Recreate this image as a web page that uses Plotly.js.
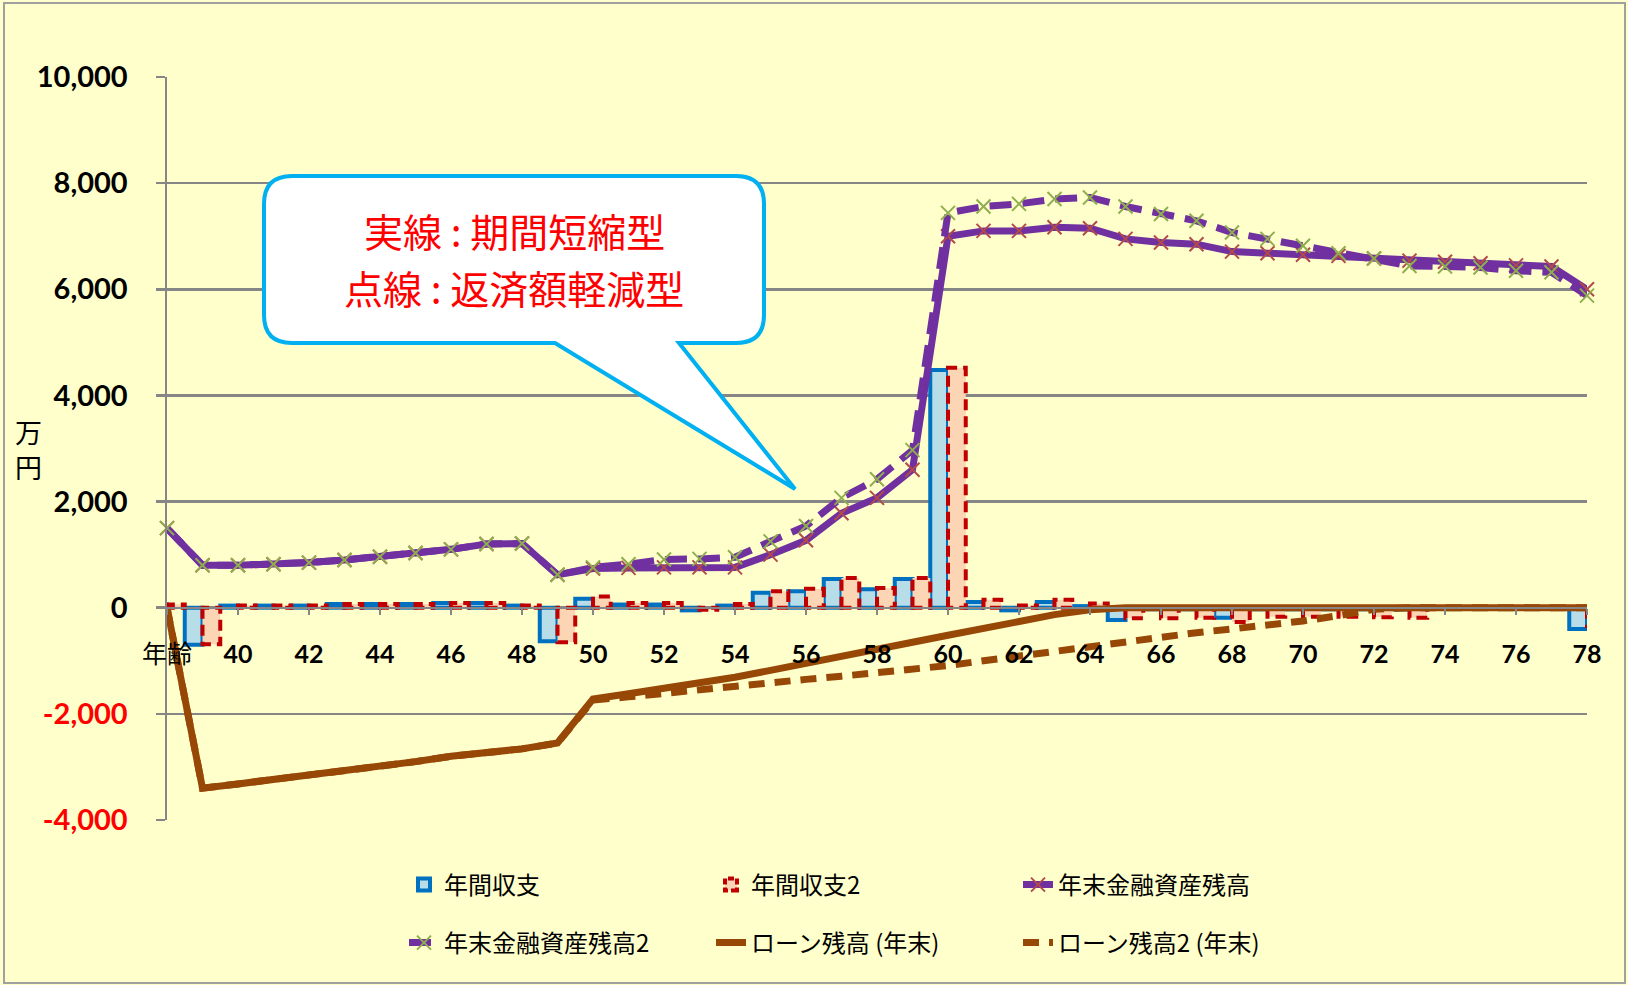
<!DOCTYPE html>
<html>
<head>
<meta charset="utf-8">
<script src="https://cdn.plot.ly/plotly-3.0.1.min.js"></script>
<style>html,body{margin:0;padding:0;background:#FFFFCC;}#chart{width:1628px;height:985px;}</style>
</head>
<body>
<div id="chart"></div>
<script>
// ---- data (万円) ----
const ages = [38,39,40,41,42,43,44,45,46,47,48,49,50,51,52,53,54,55,56,57,58,59,60,61,62,63,64,65,66,67,68,69,70,71,72,73,74,75,76,77,78];
const xTickVals = [38,40,42,44,46,48,50,52,54,56,58,60,62,64,66,68,70,72,74,76,78];
const xTickText = ['年齢','40','42','44','46','48','50','52','54','56','58','60','62','64','66','68','70','72','74','76','78'];
const yTickVals = [-4000,-2000,0,2000,4000,6000,8000,10000];
const yTickText = ['-4,000','-2,000','0','2,000','4,000','6,000','8,000','10,000'];

const annualBalance  = [60,-700,40,40,40,70,70,70,90,90,40,-630,170,60,60,-50,40,280,310,540,350,540,4480,110,-50,110,30,-230,-30,-30,-190,-30,-30,-30,-30,-30,-20,-20,-20,-20,-400];
const annualBalance2 = [60,-690,40,40,40,70,70,70,90,90,40,-650,210,90,90,-40,70,310,355,560,370,560,4520,150,40,150,80,-200,-200,-190,-270,-170,-170,-170,-180,-190,-20,-20,-20,-20,-350];
const assets  = [1500,800,800,820,850,900,960,1030,1100,1200,1210,620,740,750,760,760,760,1000,1270,1780,2070,2600,7000,7100,7100,7170,7150,6950,6880,6850,6710,6680,6650,6630,6580,6540,6520,6490,6450,6430,6000];
const assets2 = [1500,800,800,820,850,900,960,1030,1100,1200,1210,620,760,820,910,920,950,1250,1540,2070,2420,2970,7440,7560,7610,7700,7730,7560,7420,7290,7070,6950,6820,6680,6580,6440,6430,6410,6350,6320,5880];
const loan  = [0,-3400,-3320,-3240,-3170,-3080,-2990,-2900,-2800,-2730,-2660,-2550,-1720,-1620,-1520,-1420,-1310,-1180,-1040,-910,-780,-650,-520,-390,-260,-130,-40,0,0,0,0,0,0,0,0,0,0,0,0,0,0];
const loan2 = [0,-3400,-3320,-3240,-3170,-3080,-2990,-2900,-2800,-2730,-2660,-2550,-1740,-1680,-1610,-1530,-1460,-1400,-1350,-1290,-1230,-1160,-1090,-1000,-910,-820,-720,-630,-540,-470,-400,-330,-250,-150,-30,0,0,0,0,0,0];

const names = ['年間収支','年間収支2','年末金融資産残高','年末金融資産残高2','ローン残高 (年末)','ローン残高2 (年末)'];
const calloutLines = ['実線 : 期間短縮型','点線 : 返済額軽減型'];
const unitLabel = '万<br>円';

// ---- geometry helpers (pixel -> paper) ----
const W = 1628, H = 985, L = 167, R = 1587, T = 77, B = 820;
const px = x => (x - L) / (R - L);
const py = y => (B - y) / (B - T);

const purple = '#7030A0', brown = '#974806';
const CJK = "'Noto Sans CJK JP', sans-serif";
const NUM = "Lato, 'Noto Sans CJK JP', sans-serif";

const traces = [
  {type:'bar', name:names[0], x:ages, y:annualBalance, legend:'legend',
   marker:{color:'#B7DEE8', line:{color:'#0070C0', width:4}}},
  {type:'bar', name:names[1], x:ages, y:annualBalance2, legend:'legend',
   marker:{color:'#FCD5B5', line:{color:'#C00000', width:4}}},
  {type:'scatter', mode:'lines+markers', name:names[2], x:ages, y:assets, legend:'legend', cliponaxis:false,
   line:{color:purple, width:7},
   marker:{symbol:'x-thin', size:14, color:'#B24A4A', line:{color:'#B24A4A', width:2}}},
  {type:'scatter', mode:'lines+markers', name:names[3], x:ages, y:assets2, legend:'legend2', cliponaxis:false,
   line:{color:purple, width:7, dash:'22px,11px'},
   marker:{symbol:'x-thin', size:14, color:'#8FAE4F', line:{color:'#8FAE4F', width:2}}},
  {type:'scatter', mode:'lines', name:names[4], x:ages, y:loan, legend:'legend2', cliponaxis:false,
   line:{color:brown, width:7}},
  {type:'scatter', mode:'lines', name:names[5], x:ages, y:loan2, legend:'legend2', cliponaxis:false,
   line:{color:brown, width:7, dash:'16px,10px'}}
];

const yText = yTickVals.map((v,i) => v < 0 ? '<span style="color:#FF0000">'+yTickText[i]+'</span>' : yTickText[i]);
const xText = xTickText.map((t,i) => i === 0 ? t : '<b>'+t+'</b>');

// callout path (pixel coordinates converted to paper)
function P(x,y){ return px(x).toFixed(5)+','+py(y).toFixed(5); }
const bx0=264,bx1=764,by0=176,by1=343,r=28;
const callout = 'M'+P(bx0+r,by0)+' L'+P(bx1-r,by0)+' Q'+P(bx1,by0)+' '+P(bx1,by0+r)+
  ' L'+P(bx1,by1-r)+' Q'+P(bx1,by1)+' '+P(bx1-r,by1)+' L'+P(679,by1)+' L'+P(795,489)+' L'+P(555,by1)+
  ' L'+P(bx0+r,by1)+' Q'+P(bx0,by1)+' '+P(bx0,by1-r)+' L'+P(bx0,by0+r)+' Q'+P(bx0,by0)+' '+P(bx0+r,by0)+' Z';

const legendFont = {family:CJK, size:24, color:'#000'};
const layout = {
  width:W, height:H,
  margin:{l:L, r:W-R, t:T, b:H-B, pad:0},
  paper_bgcolor:'#FFFFCC', plot_bgcolor:'#FFFFCC',
  barmode:'group', bargap:0, bargroupgap:0,
  showlegend:true,
  xaxis:{
    type:'linear', range:[38,78], anchor:'free', position:4/14,
    tickmode:'array', tickvals:xTickVals, ticktext:xText,
    ticks:'outside', ticklen:6, tickwidth:2, tickcolor:'#868686',
    showline:true, linecolor:'#868686', linewidth:2.5,
    showgrid:false, zeroline:false,
    tickfont:{family:NUM, size:25, color:'#000'}, ticklabelstandoff:18
  },
  yaxis:{
    range:[-4000,10000], tickmode:'array', tickvals:yTickVals, ticktext:yText,
    ticks:'outside', ticklen:9, tickwidth:2.5, tickcolor:'#868686',
    showline:true, linecolor:'#868686', linewidth:2.5,
    showgrid:true, gridcolor:'#868686', gridwidth:2.5, zeroline:false,
    tickfont:{family:NUM, size:29, color:'#000', weight:'bold'}, ticklabelstandoff:22
  },
  legend:{orientation:'h', x:px(404), xanchor:'left', y:py(885), yanchor:'middle',
    entrywidth:262, entrywidthmode:'pixels', font:legendFont, bgcolor:'rgba(0,0,0,0)', traceorder:'normal'},
  legend2:{orientation:'h', x:px(404), xanchor:'left', y:py(943), yanchor:'middle',
    entrywidth:262, entrywidthmode:'pixels', font:legendFont, bgcolor:'rgba(0,0,0,0)', traceorder:'normal'},
  shapes:[
    {type:'rect', xref:'paper', yref:'paper', x0:px(4), x1:px(1625), y0:py(3), y1:py(983),
     line:{color:'#A0A0A0', width:2}, fillcolor:'rgba(0,0,0,0)', layer:'below'},
    {type:'path', xref:'paper', yref:'paper', path:callout, fillcolor:'#FFFFFF',
     line:{color:'#00B0F0', width:4}, layer:'above'}
  ],
  annotations:[
    {xref:'paper', yref:'paper', x:px(514), y:py(230), xanchor:'center', yanchor:'middle',
     text:calloutLines[0], showarrow:false, font:{family:CJK, size:39, color:'#FF0000'}},
    {xref:'paper', yref:'paper', x:px(514), y:py(287), xanchor:'center', yanchor:'middle',
     text:calloutLines[1], showarrow:false, font:{family:CJK, size:39, color:'#FF0000'}},
    {xref:'paper', yref:'paper', x:px(28), y:py(449), xanchor:'center', yanchor:'middle',
     text:unitLabel, showarrow:false, font:{family:CJK, size:27, color:'#000'}}
  ]
};

Plotly.newPlot('chart', traces, layout, {displayModeBar:false, staticPlot:true}).then(gd => {
  const barTraces = gd.querySelectorAll('.barlayer .trace');
  if (barTraces[1]) barTraces[1].querySelectorAll('path').forEach(p => { p.style.strokeDasharray = '11px,6px'; });
  gd.querySelectorAll('.legend .traces').forEach(t => {
    const txt = t.querySelector('.legendtext');
    if (txt && txt.textContent === names[1]) t.querySelectorAll('.legendpoints path').forEach(p => { p.style.strokeDasharray = '6px,3px'; });
  });
});
</script>
</body>
</html>
